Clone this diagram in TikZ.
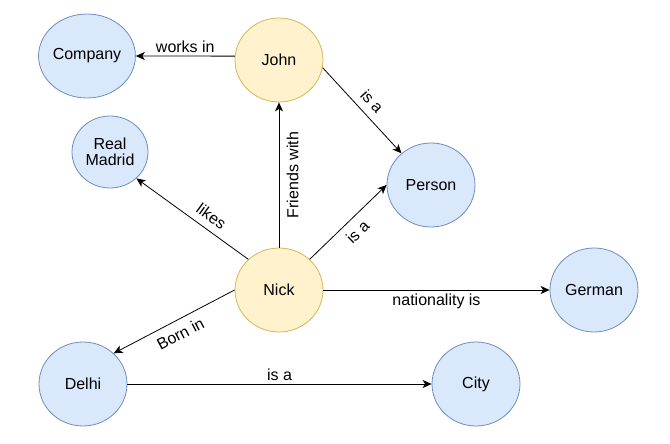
\documentclass[tikz,border=0pt]{standalone}
\usepackage{fontspec}
\setmainfont{Liberation Sans}
\usepackage{tikz}
\usetikzlibrary{positioning, arrows.meta, shapes.geometric}

\definecolor{entfill}{HTML}{DAE8FC}
\definecolor{entdraw}{HTML}{6C8EBF}
\definecolor{persfill}{HTML}{FFF2CC}
\definecolor{persdraw}{HTML}{D6B656}

\begin{document}
\begin{tikzpicture}[x=1pt, y=-1pt, font=\fontsize{16}{19}\selectfont,
    entity/.style={draw=entdraw, fill=entfill, ellipse, inner sep=0pt, minimum width=88pt, minimum height=84pt, line width=0.8pt},
    person/.style={entity, draw=persdraw, fill=persfill},
    rel/.style={-{Stealth[length=9pt, width=8pt, inset=2.5pt]}, line width=0.8pt}]
    \useasboundingbox (0,0) rectangle (670,444);
    % Noeuds
    \node[person] (john) at (279,60) {John};
    \node[person] (nick) at (279,290) {Nick};
    \node[entity] (company) at (87,56) {Company};
    \node[entity, minimum width=76pt, minimum height=72pt, align=center] (madrid) at (110,152) {Real\\[-3pt]Madrid};
    \node[entity] (person) at (431,185) {Person};
    \node[entity] (german) at (594,290) {German};
    \node[entity] (delhi) at (83,384) {Delhi};
    \node[entity] (city) at (476,384) {City};

    % Fleches
    \draw[rel] (john.175) -- node[above] {works in} (company.east);
    \draw[rel] (john.-10) -- node[above=4pt, sloped] {is a} (person.133);
    \draw[rel] (nick) -- node[below=4pt, sloped] {Friends with} (john);
    \draw[rel] (nick.135) -- node[above=4pt, sloped, pos=0.4] {likes} (madrid.-45);
    \draw[rel] (nick.45) -- node[below=4pt, sloped] {is a} (person.west);
    \draw[rel] (nick) -- node[below] {nationality is} (german);
    \draw[rel] (nick.west) -- node[below=4pt, sloped] {Born in} (delhi.45);
    \draw[rel] (delhi) -- node[above] {is a} (city);
\end{tikzpicture}
\end{document}
